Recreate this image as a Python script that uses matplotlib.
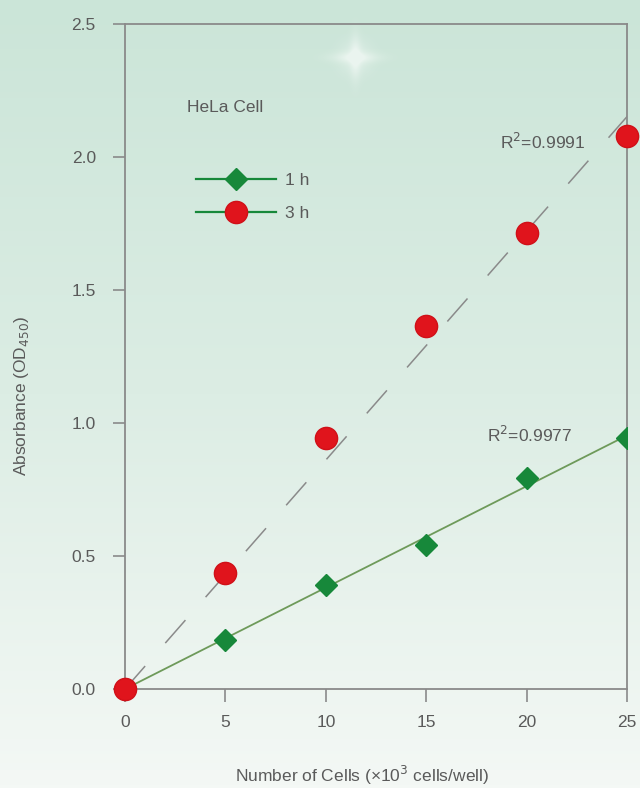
import numpy as np
import matplotlib
matplotlib.use("Agg")
import matplotlib.pyplot as plt
from matplotlib.lines import Line2D
from matplotlib.colors import LinearSegmentedColormap

plt.rcParams['font.family'] = ['Liberation Sans', 'DejaVu Sans']

cells = [0, 5, 10, 15, 20, 25]
od_1h = [0.0, 0.185, 0.39, 0.54, 0.795, 0.945]
od_3h = [0.0, 0.435, 0.945, 1.365, 1.715, 2.08]
r2_1h = "R$^2$=0.9977"
r2_3h = "R$^2$=0.9991"
xticks = [0, 5, 10, 15, 20, 25]
yticks = [0.0, 0.5, 1.0, 1.5, 2.0, 2.5]

TXT = '#5a5a5a'
FS = 12.5

fig = plt.figure(figsize=(6.4, 7.88), dpi=100)

# background gradient
bg = fig.add_axes([0, 0, 1, 1], zorder=-10)
grad = np.linspace(0, 1, 256).reshape(-1, 1)
cmap = LinearSegmentedColormap.from_list("bg", ["#cbe5d8", "#dcede4", "#f4f8f5"])
bg.imshow(grad, aspect='auto', cmap=cmap, extent=[0, 1, 0, 1], origin='upper')
# soft sparkle glow
H, W = 788, 640
yy, xx = np.mgrid[0:H, 0:W]
cx, cy = 355, 57
glow = (np.exp(-(((xx - cx) / 16.0) ** 2 + ((yy - cy) / 16.0) ** 2)) * 0.35
        + np.exp(-(((xx - cx) / 26.0) ** 2 + ((yy - cy) / 5.0) ** 2)) * 0.35
        + np.exp(-(((xx - cx) / 5.0) ** 2 + ((yy - cy) / 24.0) ** 2)) * 0.35)
rgba = np.ones((H, W, 4))
rgba[..., 3] = np.clip(glow, 0, 0.6)
bg.imshow(rgba, aspect='auto', extent=[0, 1, 0, 1], origin='upper')
bg.set_xlim(0, 1)
bg.set_ylim(0, 1)
bg.axis('off')

ax = fig.add_axes([0.1953, 0.1256, 0.7847, 0.8439])
ax.patch.set_alpha(0)
ax.set_xlim(0, 25)
ax.set_ylim(0, 2.5)

x = np.array(cells, dtype=float)
s1 = np.sum(x * np.array(od_1h)) / np.sum(x * x)
s3 = np.sum(x * np.array(od_3h)) / np.sum(x * x)
ax.plot(x, s1 * x, color='#6e9a5a', lw=1.3, zorder=2)
ax.plot(x, s3 * x, color='#8a8a8a', lw=1.1, dashes=(20, 20), zorder=2)

ax.plot(cells, od_1h, ls='none', marker='D', ms=11, color='#17883a', mec='#17883a', zorder=3)
ax.plot(cells, od_3h, ls='none', marker='o', ms=16, color='#e0141c', mec='#d01018', zorder=4, clip_on=False)

for sp in ax.spines.values():
    sp.set_color('#8a8a8a')
    sp.set_linewidth(1.3)

ax.set_xticks(xticks)
ax.set_xticklabels([str(v) for v in xticks])
ax.set_yticks(yticks)
ax.set_yticklabels([f"{v:.1f}" for v in yticks])
ax.tick_params(axis='both', colors='#8a8a8a', labelcolor=TXT, labelsize=FS, length=9, width=1.2)
ax.tick_params(axis='x', pad=10)
ax.tick_params(axis='y', pad=12)

fig.text(362 / 640, 1 - 775 / 788, "Number of Cells (\u00d710$^3$ cells/well)", fontsize=FS,
         color=TXT, ha='center', va='center')
fig.text(22 / 640, 1 - 396 / 788, "Absorbance (OD$_{450}$)", fontsize=FS, color=TXT,
         ha='center', va='center', rotation=90)

ax.text(0.124, 0.875, "HeLa Cell", transform=ax.transAxes, fontsize=FS, color=TXT, va='center')
ax.text(0.917, 0.822, r2_3h, transform=ax.transAxes, fontsize=FS, color=TXT, va='center', ha='right')
ax.text(0.89, 0.382, r2_1h, transform=ax.transAxes, fontsize=FS, color=TXT, va='center', ha='right')

handles = [
    Line2D([], [], color='#17883a', lw=1.6, marker='D', ms=11, mfc='#17883a', mec='#17883a'),
    Line2D([], [], color='#17883a', lw=1.6, marker='o', ms=16, mfc='#e0141c', mec='#d01018'),
]
leg = ax.legend(handles, ["1 h", "3 h"], loc='upper left', bbox_to_anchor=(0.128, 0.787),
                frameon=False, fontsize=FS, handlelength=4.6, labelspacing=1.05,
                handletextpad=0.5, borderaxespad=0)
for t in leg.get_texts():
    t.set_color(TXT)

fig.savefig("out.png", dpi=100)
